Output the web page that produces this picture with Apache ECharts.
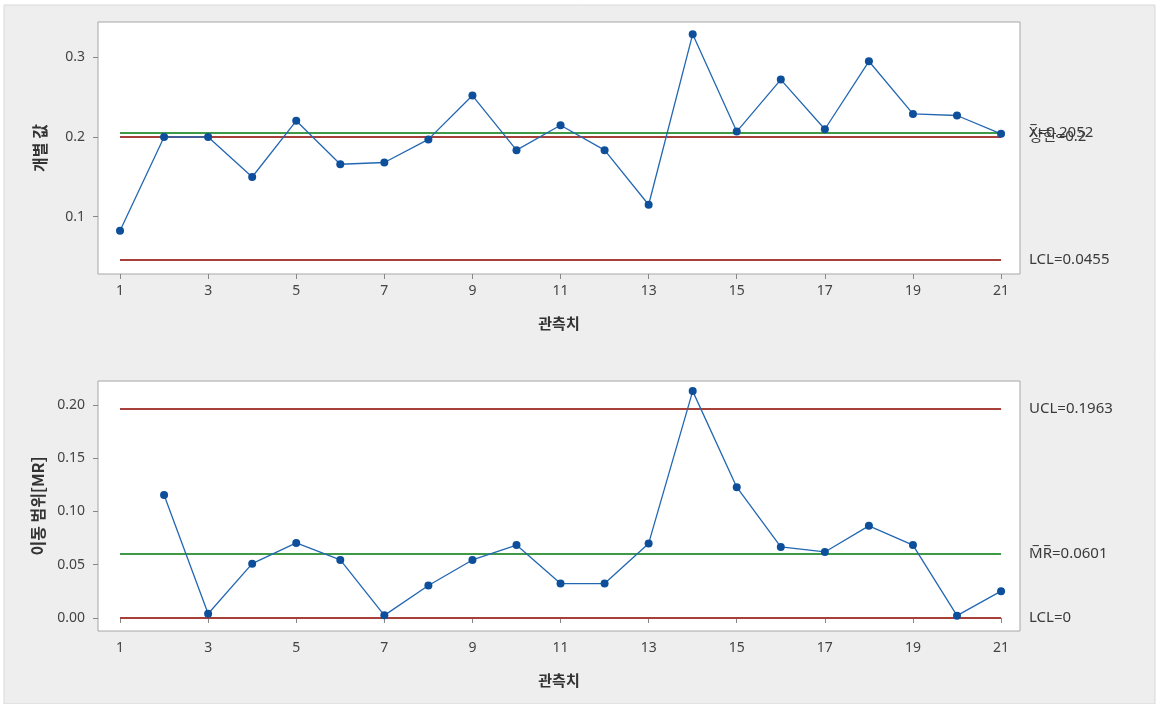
<!DOCTYPE html>
<html>
<head>
<meta charset="utf-8">
<script src="https://cdn.jsdelivr.net/npm/echarts@6/dist/echarts.min.js"></script>
<style>
  html, body { margin: 0; padding: 0; background: #ffffff; }
  #chart { width: 1158px; height: 704px; }
</style>
</head>
<body>
<div id="chart"></div>
<script>
// Observation numbers
var observations = [1, 2, 3, 4, 5, 6, 7, 8, 9, 10, 11, 12, 13, 14, 15, 16, 17, 18, 19, 20, 21];

// Individual values
var individualValues = [0.0823, 0.2000, 0.2000, 0.1498, 0.2203, 0.1658, 0.1680, 0.1970, 0.2520, 0.1835,
  0.2148, 0.1835, 0.1150, 0.3290, 0.2068, 0.2720, 0.2097, 0.2950, 0.2290, 0.2270, 0.2040];

// Moving ranges (first observation has none)
var movingRanges = [null, 0.1155, 0.0040, 0.0510, 0.0705, 0.0545, 0.0025, 0.0305, 0.0545, 0.0685,
  0.0323, 0.0323, 0.0700, 0.2130, 0.1228, 0.0667, 0.0620, 0.0865, 0.0685, 0.0022, 0.0252];

// Control lines
var iMean = 0.2052, iUpperBound = 0.2, iLCL = 0.0455;
var mrMean = 0.0601, mrUCL = 0.1963, mrLCL = 0;

// Tick labels
var xTicks = [1, 3, 5, 7, 9, 11, 13, 15, 17, 19, 21];
var iTicks = [0.1, 0.2, 0.3];
var mrTicks = [0, 0.05, 0.10, 0.15, 0.20];

var RED = '#a8403a', GREEN = '#3f9a47', BLUE = '#2367b3', MARK = '#0d4f9a';
var FONT = '"Noto Sans", "Noto Sans CJK KR", sans-serif';
var KFONT = '"Noto Sans CJK KR", sans-serif';

function pairs(vals) {
  return observations.map(function (x, i) { return vals[i] == null ? null : [x, vals[i]]; })
    .filter(function (p) { return p !== null; });
}

function hLine(y, color, text) {
  return [
    { coord: [observations[0], y], lineStyle: { color: color, width: 2, type: 'solid' },
      label: { show: true, position: 'end', distance: 28, formatter: text, color: '#3a3a3a',
               fontSize: 15, fontFamily: FONT } },
    { coord: [observations[observations.length - 1], y] }
  ];
}

function xAxisCfg(gridIndex) {
  return {
    type: 'value', gridIndex: gridIndex, min: 0.5, max: 21.43,
    name: '관측치', nameLocation: 'middle', nameGap: 42,
    nameTextStyle: { fontFamily: KFONT, fontWeight: 'bold', fontSize: 15, color: '#333' },
    axisLine: { show: false },
    axisTick: { show: true, length: 5, lineStyle: { color: '#888' }, customValues: xTicks },
    axisLabel: { color: '#444', fontSize: 14, fontFamily: FONT, margin: 10, customValues: xTicks,
                 formatter: function (v) { return String(v); } },
    splitLine: { show: false }
  };
}

function yAxisCfg(gridIndex, min, max, ticks, name, fmt) {
  return {
    type: 'value', gridIndex: gridIndex, min: min, max: max,
    name: name, nameLocation: 'middle', nameGap: 50,
    nameTextStyle: { fontFamily: KFONT, fontWeight: 'bold', fontSize: 16, color: '#333' },
    axisLine: { show: false },
    axisTick: { show: true, length: 5, lineStyle: { color: '#888' }, customValues: ticks },
    axisLabel: { color: '#444', fontSize: 14, fontFamily: FONT, margin: 13, customValues: ticks,
                 formatter: fmt },
    splitLine: { show: false }
  };
}

var chart = echarts.init(document.getElementById('chart'), null, { renderer: 'canvas' });

chart.setOption({
  backgroundColor: '#ffffff',
  animation: false,
  graphic: [
    { type: 'rect', z: -10, shape: { x: 4, y: 5, width: 1151, height: 699 },
      style: { fill: '#eeeeee', stroke: '#d9d9d9', lineWidth: 1 } }
  ],
  grid: [
    { left: 98, top: 22, width: 922, height: 252, show: true, backgroundColor: '#ffffff',
      borderColor: '#a6a6a6', borderWidth: 1 },
    { left: 98, top: 381, width: 922, height: 250, show: true, backgroundColor: '#ffffff',
      borderColor: '#a6a6a6', borderWidth: 1 }
  ],
  xAxis: [xAxisCfg(0), xAxisCfg(1)],
  yAxis: [
    yAxisCfg(0, 0.0281, 0.3443, iTicks, '개별 값', function (v) { return v.toFixed(1); }),
    yAxisCfg(1, -0.0122, 0.2225, mrTicks, '이동 범위[MR]', function (v) { return v.toFixed(2); })
  ],
  series: [
    {
      type: 'line', xAxisIndex: 0, yAxisIndex: 0, data: pairs(individualValues),
      symbol: 'circle', symbolSize: 8, z: 5,
      lineStyle: { color: BLUE, width: 1.3 },
      itemStyle: { color: MARK },
      markLine: {
        silent: true, symbol: 'none', animation: false,
        data: [
          hLine(iUpperBound, RED, '상한=0.2'),
          hLine(iMean, GREEN, 'X\u0305=0.2052'),
          hLine(iLCL, RED, 'LCL=0.0455')
        ]
      }
    },
    {
      type: 'line', xAxisIndex: 1, yAxisIndex: 1, data: pairs(movingRanges),
      symbol: 'circle', symbolSize: 8, z: 5,
      lineStyle: { color: BLUE, width: 1.3 },
      itemStyle: { color: MARK },
      markLine: {
        silent: true, symbol: 'none', animation: false,
        data: [
          hLine(mrUCL, RED, 'UCL=0.1963'),
          hLine(mrMean, GREEN, 'M\u0305R\u0305=0.0601'),
          hLine(mrLCL, RED, 'LCL=0')
        ]
      }
    }
  ]
});
</script>
</body>
</html>
